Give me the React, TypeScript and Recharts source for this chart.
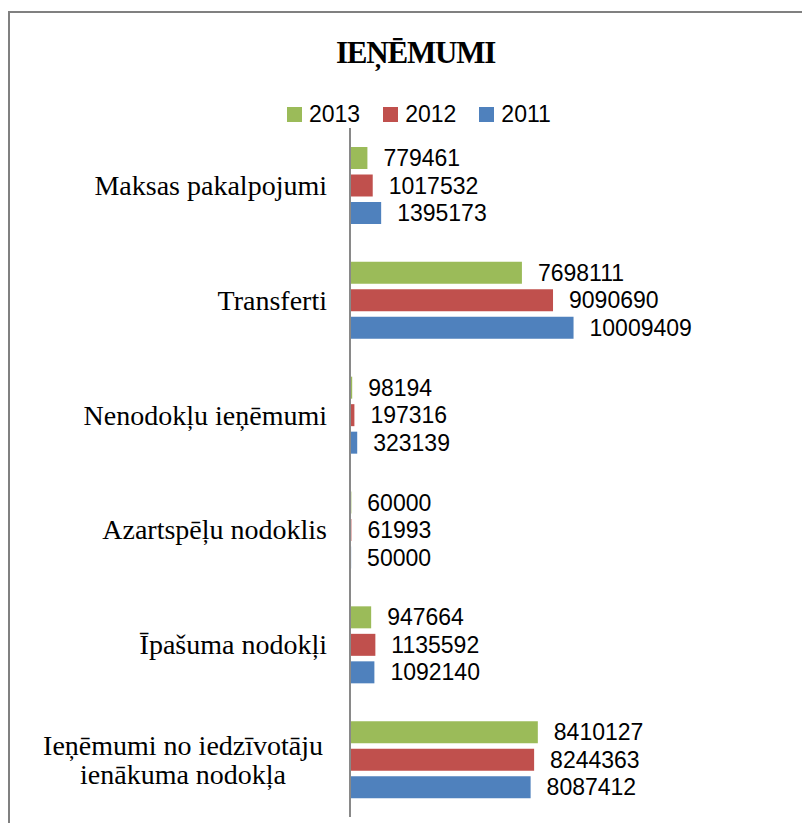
import React from 'react';
import { BarChart, Bar, XAxis, YAxis, LabelList } from 'recharts';

const categories = [
  'Maksas pakalpojumi',
  'Transferti',
  'Nenodokļu ieņēmumi',
  'Azartspēļu nodoklis',
  'Īpašuma nodokļi',
  'Ieņēmumi no iedzīvotāju\nienākuma nodokļa',
];
const values2013 = [779461, 7698111, 98194, 60000, 947664, 8410127];
const values2012 = [1017532, 9090690, 197316, 61993, 1135592, 8244363];
const values2011 = [1395173, 10009409, 323139, 50000, 1092140, 8087412];
const seriesKeys = ['y2013', 'y2012', 'y2011'];
const seriesNames = ['2013', '2012', '2011'];
const seriesColors = ['#9BBB59', '#C0504D', '#4F81BD'];
const title = 'IEŅĒMUMI';

const data = categories.map((name, i) => ({
  name,
  y2013: values2013[i],
  y2012: values2012[i],
  y2011: values2011[i],
}));

const CAT_FONT = '28px "Liberation Serif"';
let canvasCtx: CanvasRenderingContext2D | null = null;
function measure(text: string): number {
  if (!canvasCtx) {
    const c = document.createElement('canvas');
    canvasCtx = c.getContext('2d');
  }
  if (!canvasCtx) return text.length * 12;
  canvasCtx.font = CAT_FONT;
  return canvasCtx.measureText(text).width;
}

const CategoryTick = (props: any) => {
  const { x, y, payload } = props;
  const lines: string[] = String(payload.value).split('\n');
  const style = { fontFamily: '"Liberation Serif"', fontSize: 28, fill: '#000' };
  if (lines.length === 1) {
    return (
      <text x={x} y={y} dy="0.34em" textAnchor="end" style={style}>
        {lines[0]}
      </text>
    );
  }
  const maxW = Math.max(...lines.map(measure));
  const cx = x - 4 - maxW / 2;
  const lh = 29;
  const startDy = -((lines.length - 1) * lh) / 2;
  return (
    <text x={cx} y={y} textAnchor="middle" style={style}>
      {lines.map((l, i) => (
        <tspan key={i} x={cx} dy={i === 0 ? startDy + 9.5 : lh}>
          {l}
        </tspan>
      ))}
    </text>
  );
};

export default function App() {
  return (
    <div style={{ position: 'relative', width: 794, height: 815, overflow: 'hidden', background: '#fff' }}>
      <div
        style={{
          position: 'absolute',
          left: 0,
          top: 3,
          width: 900,
          height: 900,
          borderLeft: '2px solid #808080',
          borderTop: '2px solid #808080',
        }}
      />
      <svg style={{ position: 'absolute', left: 0, top: 0 }} width={794} height={90}>
        <text
          x={407.5}
          y={55}
          textAnchor="middle"
          style={{ fontFamily: '"Liberation Serif"', fontWeight: 'bold', fontSize: 31, letterSpacing: -1.2, fill: '#000' }}
        >
          {title}
        </text>
      </svg>
      <div
        style={{
          position: 'absolute',
          left: 279,
          top: 91,
          height: 30,
          display: 'flex',
          alignItems: 'center',
          fontFamily: '"Liberation Sans"',
          fontSize: 23,
          color: '#000',
        }}
      >
        {seriesNames.map((n, i) => (
          <div key={n} style={{ display: 'flex', alignItems: 'center', marginRight: 23 }}>
            <div style={{ width: 15, height: 15, background: seriesColors[i], marginRight: 7 }} />
            <span style={{ lineHeight: '30px' }}>{n}</span>
          </div>
        ))}
      </div>
      <div style={{ position: 'absolute', left: 0, top: 0 }}>
        <BarChart
          width={794}
          height={815}
          data={data}
          layout="vertical"
          margin={{ top: 120, right: 184, bottom: 6, left: 0 }}
          barSize={22}
          barGap={5.5}
        >
          <XAxis type="number" domain={[0, 12000000]} hide />
          <YAxis
            type="category"
            dataKey="name"
            width={342}
            axisLine={{ stroke: '#898989', strokeWidth: 2 }}
            tickLine={false}
            tickSize={0}
            tickMargin={23}
            tick={<CategoryTick />}
            interval={0}
          />
          {seriesKeys.map((k, i) => (
            <Bar key={k} dataKey={k} name={seriesNames[i]} fill={seriesColors[i]} isAnimationActive={false}>
              <LabelList
                dataKey={k}
                position="right"
                offset={16}
                style={{ fontFamily: '"Liberation Sans"', fontSize: 23, fill: '#000' }}
              />
            </Bar>
          ))}
        </BarChart>
      </div>
    </div>
  );
}
